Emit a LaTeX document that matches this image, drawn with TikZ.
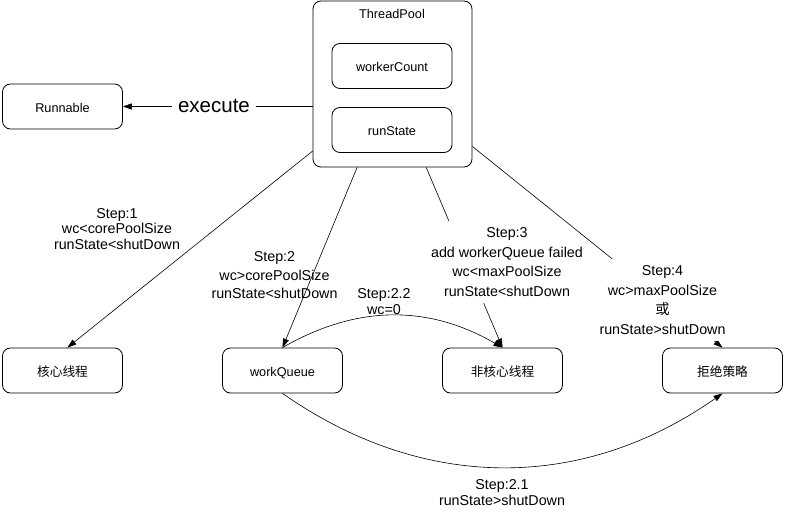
\documentclass[tikz,border=0pt]{standalone}
\usepackage{fontspec}
\setmainfont{Liberation Sans}
\newfontfamily\cjk{Noto Sans CJK SC}
\usetikzlibrary{arrows.meta,positioning}

\begin{document}
\begin{tikzpicture}[x=1pt,y=-1pt,
  box/.style={draw,line width=0.8pt,rounded corners=8pt,minimum width=120pt,minimum height=45pt,inner sep=0pt,text height=11.5pt,text depth=0pt,font=\fontsize{12.7}{14}\selectfont},
  steplabel/.style={align=center,inner sep=0pt},
  flow/.style={-{Triangle[length=9pt,width=6pt]},line width=0.6pt}]
\useasboundingbox (0,0) rectangle (785,513);
% thread pool with its two fields
\node[draw,line width=0.8pt,rounded corners=8pt,minimum width=159pt,minimum height=166pt,inner sep=0pt] (tp) at (392.5,84) {};
\node[font=\fontsize{12.7}{14}\selectfont] (tptitle) at (392,14) {ThreadPool};
\node[box] (wc) at (392,66) {workerCount};
\node[box] (rs) at (392,130) {runState};
% targets
\node[box] (rn) at (62.5,106.5) {Runnable};
\node[box] (hx) at (62.5,370.5) {\cjk 核心线程};
\node[box] (wq) at (282.5,370.5) {workQueue};
\node[box] (nc) at (502.5,370.5) {\cjk 非核心线程};
\node[box] (jc) at (722.5,370.5) {\cjk 拒绝策略};
% connectors
\draw[flow] (rn.east -| tp.west) -- (rn.east);
\draw[flow] (tp.220) -- (hx.78);
\draw[flow] (tp.247) -- (wq.north);
\draw[flow] (tp.292) -- (nc.north);
\draw[flow] (wq.north) to[bend left=30] (nc.north);
\draw[flow] (wq.south) to[bend right=35] (jc.south);
% labels
\node[fill=white,inner xsep=6pt,inner ysep=2pt,font=\fontsize{20.5}{22}\selectfont] (exec) at (214,106) {execute};
\node[steplabel,font=\fontsize{14.3}{15.5}\selectfont] (s1) at (117,229) {Step:1\\wc<corePoolSize\\runState<shutDown};
\node[steplabel,font=\fontsize{14.3}{18.5}\selectfont] (s2) at (274.5,275.5) {Step:2\\wc>corePoolSize\\runState<shutDown};
\node[steplabel,fill=white,inner ysep=7pt,inner xsep=2pt,font=\fontsize{14.3}{19.5}\selectfont] (s3) at (507,262) {Step:3\\add workerQueue failed\\wc<maxPoolSize\\runState<shutDown};
\draw[flow] (tp.322) -- (jc.north);
\node[steplabel,fill=white,inner ysep=7pt,inner xsep=2pt,font=\fontsize{14.3}{19.5}\selectfont] (s4) at (662.5,300) {Step:4\\wc>maxPoolSize\\{\cjk 或}\\runState>shutDown};
\node[steplabel,font=\fontsize{14.3}{16}\selectfont] (s22) at (384,302) {Step:2.2\\wc=0};
\node[steplabel,font=\fontsize{14.3}{16}\selectfont] (s21) at (502,493) {Step:2.1\\runState>shutDown};
\end{tikzpicture}
\end{document}
